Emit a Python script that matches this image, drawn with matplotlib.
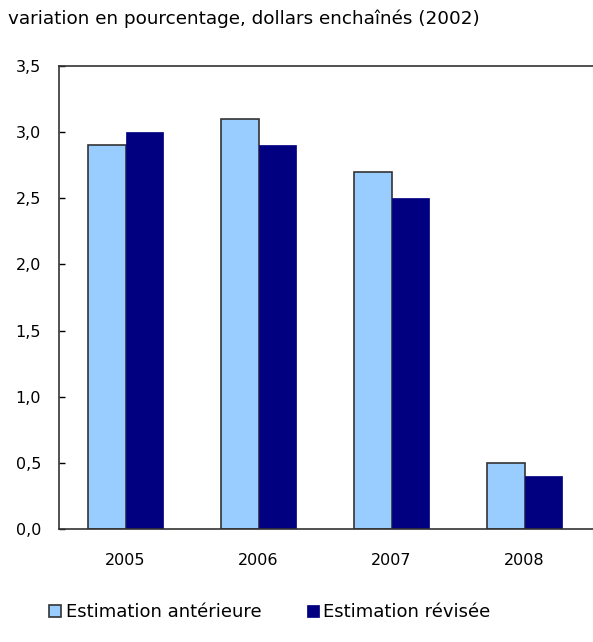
import numpy as np
import matplotlib.pyplot as plt
from matplotlib.ticker import FuncFormatter

plt.rcParams['font.family'] = ['DejaVu Sans']

years = ['2005', '2006', '2007', '2008']
anterieure = [2.9, 3.1, 2.7, 0.5]
revisee = [3.0, 2.9, 2.5, 0.4]

fig = plt.figure(figsize=(5.93, 6.42), dpi=100)
ax = fig.add_axes([59 / 593, 113 / 642, 534 / 593, 463 / 642])

x = np.arange(len(years))
w = 0.285
b1 = ax.bar(x - w / 2, anterieure, w, color='#99CCFF', edgecolor='#333333',
            linewidth=1.2, label='Estimation antérieure', zorder=2)
b2 = ax.bar(x + w / 2, revisee, w, color='#000080', edgecolor='#000080',
            linewidth=0.5, label='Estimation révisée', zorder=2)

ax.set_xlim(-0.5, 3.515)
ax.set_ylim(0, 3.5)
ax.set_yticks(np.arange(0, 3.51, 0.5))
ax.yaxis.set_major_formatter(FuncFormatter(lambda v, p: f'{v:.1f}'.replace('.', ',')))
ax.set_xticks(x)
ax.set_xticklabels(years)
ax.tick_params(axis='y', direction='in', length=4, width=1, pad=13, labelsize=11.5)
ax.tick_params(axis='x', length=0, pad=17, labelsize=11.5)
ax.spines['right'].set_visible(False)
for s in ['left', 'top', 'bottom']:
    ax.spines[s].set_color('#333333')
    ax.spines[s].set_linewidth(1.2)

fig.text(8 / 593, 1 - 19 / 642, 'variation en pourcentage, dollars enchaînés (2002)',
         fontsize=13.2, va='center', ha='left')

fig.legend(handles=[b1, b2], loc='center', bbox_to_anchor=(270 / 593, 1 - 612 / 642),
           ncol=2, frameon=False, fontsize=13, handlelength=0.67, handleheight=0.67,
           handletextpad=0.25, columnspacing=2.5)

fig.savefig('out.png', dpi=100)
